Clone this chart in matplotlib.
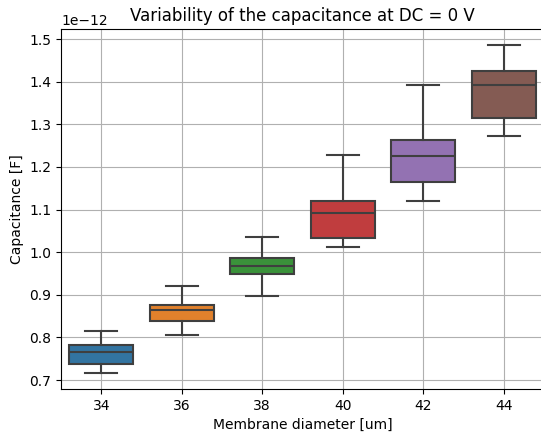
import matplotlib
matplotlib.use("Agg")
import matplotlib.pyplot as plt

diameters = ["34", "36", "38", "40", "42", "44"]
whisker_low = [0.717, 0.806, 0.898, 1.011, 1.119, 1.273]
q1 = [0.737, 0.839, 0.948, 1.034, 1.165, 1.314]
median = [0.7657, 0.864, 0.968, 1.093, 1.2265, 1.391]
q3 = [0.783, 0.876, 0.987, 1.119, 1.263, 1.426]
whisker_high = [0.8157, 0.920, 1.035, 1.227, 1.393, 1.486]
colors = ["#3274a1", "#e1812c", "#3a923a", "#c03d3e", "#9372b2", "#845b53"]

scale = 1e-12
stats = []
for i, lab in enumerate(diameters):
    stats.append(dict(label=lab, whislo=whisker_low[i] * scale, q1=q1[i] * scale,
                      med=median[i] * scale, q3=q3[i] * scale,
                      whishi=whisker_high[i] * scale, fliers=[]))

fig = plt.figure(figsize=(5.41, 4.34), dpi=100)
ax = fig.add_axes([61 / 541, 1 - 389 / 434, (544 - 61) / 541, (389 - 29) / 434])
edge = "#3f3f3f"
bp = ax.bxp(stats, positions=range(len(stats)), widths=0.8, capwidths=0.4,
            patch_artist=True, showfliers=False,
            boxprops=dict(edgecolor=edge, linewidth=1.5),
            whiskerprops=dict(color=edge, linewidth=1.5),
            capprops=dict(color=edge, linewidth=1.5),
            medianprops=dict(color=edge, linewidth=1.5))
for patch, c in zip(bp["boxes"], colors):
    patch.set_facecolor(c)

ax.set_xlim(-0.5, 5.5)
ax.set_ylim(0.679e-12, 1.5235e-12)
ax.set_axisbelow(True)
ax.grid(True)
ax.set_title("Variability of the capacitance at DC = 0 V")
ax.set_xlabel("Membrane diameter [um]")
ax.set_ylabel("Capacitance [F]")
fig.savefig("out.png", dpi=100)
